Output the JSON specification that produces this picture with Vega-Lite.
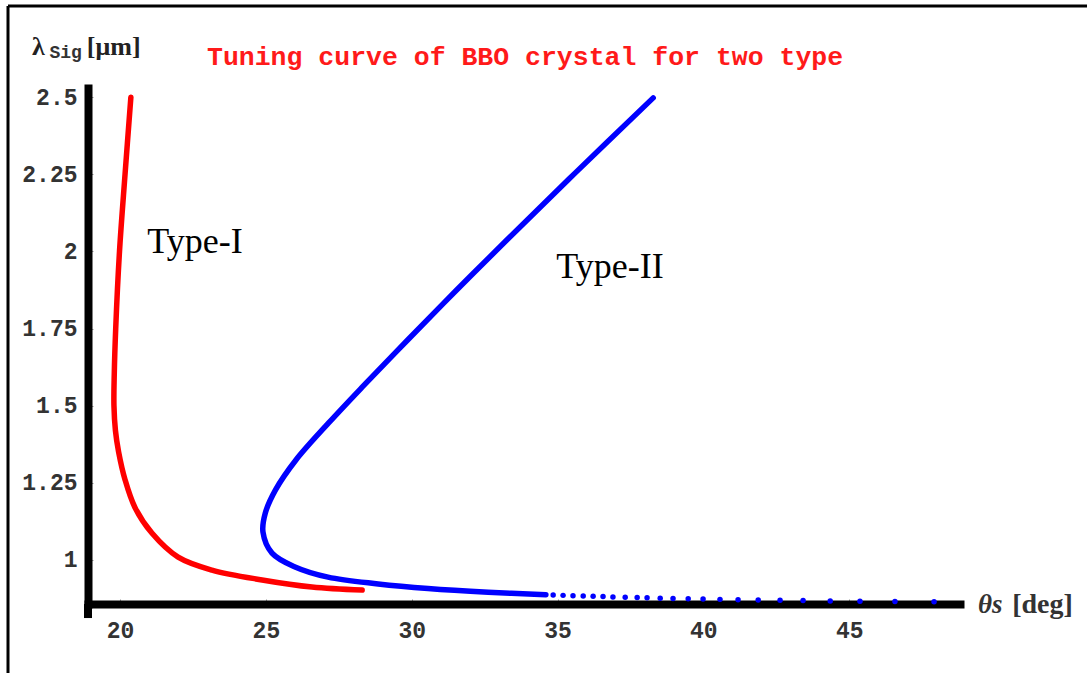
{
  "$schema": "https://vega.github.io/schema/vega-lite/v6.json",
  "width": 872,
  "height": 516,
  "autosize": {"type": "none"},
  "padding": {"left": 88, "top": 88, "right": 127, "bottom": 69},
  "background": "white",
  "config": {"view": {"stroke": null}},
  "datasets": {
    "curves": [
      {"type": "Type-I", "order": 1, "theta": 20.37, "lambda": 2.5},
      {"type": "Type-I", "order": 2, "theta": 20.17, "lambda": 2.25},
      {"type": "Type-I", "order": 3, "theta": 19.98, "lambda": 2.0},
      {"type": "Type-I", "order": 4, "theta": 19.85, "lambda": 1.75},
      {"type": "Type-I", "order": 5, "theta": 19.8, "lambda": 1.6},
      {"type": "Type-I", "order": 6, "theta": 19.79, "lambda": 1.5},
      {"type": "Type-I", "order": 7, "theta": 19.84, "lambda": 1.42},
      {"type": "Type-I", "order": 8, "theta": 19.95, "lambda": 1.35},
      {"type": "Type-I", "order": 9, "theta": 20.17, "lambda": 1.26},
      {"type": "Type-I", "order": 10, "theta": 20.51, "lambda": 1.17},
      {"type": "Type-I", "order": 11, "theta": 21.09, "lambda": 1.087},
      {"type": "Type-I", "order": 12, "theta": 21.99, "lambda": 1.009},
      {"type": "Type-I", "order": 13, "theta": 23.15, "lambda": 0.967},
      {"type": "Type-I", "order": 14, "theta": 24.87, "lambda": 0.935},
      {"type": "Type-I", "order": 15, "theta": 26.58, "lambda": 0.912},
      {"type": "Type-I", "order": 16, "theta": 28.3, "lambda": 0.902},
      {"type": "Type-II", "order": 1, "theta": 38.28, "lambda": 2.498},
      {"type": "Type-II", "order": 2, "theta": 35.6, "lambda": 2.254},
      {"type": "Type-II", "order": 3, "theta": 33.26, "lambda": 2.037},
      {"type": "Type-II", "order": 4, "theta": 31.54, "lambda": 1.875},
      {"type": "Type-II", "order": 5, "theta": 29.86, "lambda": 1.713},
      {"type": "Type-II", "order": 6, "theta": 28.3, "lambda": 1.56},
      {"type": "Type-II", "order": 7, "theta": 27.15, "lambda": 1.444},
      {"type": "Type-II", "order": 8, "theta": 26.03, "lambda": 1.324},
      {"type": "Type-II", "order": 9, "theta": 25.33, "lambda": 1.227},
      {"type": "Type-II", "order": 10, "theta": 24.98, "lambda": 1.152},
      {"type": "Type-II", "order": 11, "theta": 24.9, "lambda": 1.09},
      {"type": "Type-II", "order": 12, "theta": 25.21, "lambda": 1.022},
      {"type": "Type-II", "order": 13, "theta": 26.0, "lambda": 0.977},
      {"type": "Type-II", "order": 14, "theta": 27.13, "lambda": 0.944},
      {"type": "Type-II", "order": 15, "theta": 28.85, "lambda": 0.922},
      {"type": "Type-II", "order": 16, "theta": 30.56, "lambda": 0.907},
      {"type": "Type-II", "order": 17, "theta": 32.62, "lambda": 0.895},
      {"type": "Type-II", "order": 18, "theta": 34.6, "lambda": 0.887}
    ],
    "dots": [
      {"theta": 34.85, "lambda": 0.886},
      {"theta": 35.19, "lambda": 0.885},
      {"theta": 35.53, "lambda": 0.884},
      {"theta": 35.88, "lambda": 0.883},
      {"theta": 36.22, "lambda": 0.882},
      {"theta": 36.56, "lambda": 0.881},
      {"theta": 36.9, "lambda": 0.88},
      {"theta": 37.32, "lambda": 0.879},
      {"theta": 37.73, "lambda": 0.878},
      {"theta": 38.07, "lambda": 0.877},
      {"theta": 38.52, "lambda": 0.876},
      {"theta": 38.96, "lambda": 0.875},
      {"theta": 39.48, "lambda": 0.874},
      {"theta": 39.99, "lambda": 0.873},
      {"theta": 40.57, "lambda": 0.872},
      {"theta": 41.19, "lambda": 0.871},
      {"theta": 41.88, "lambda": 0.87},
      {"theta": 42.63, "lambda": 0.869},
      {"theta": 43.42, "lambda": 0.868},
      {"theta": 44.35, "lambda": 0.867},
      {"theta": 45.37, "lambda": 0.866},
      {"theta": 46.57, "lambda": 0.865},
      {"theta": 47.91, "lambda": 0.864}
    ],
    "labels": [
      {"text": "Type-I", "theta": 22.57, "lambda": 1.995},
      {"text": "Type-II", "theta": 36.8, "lambda": 1.914}
    ],
    "one": [{}]
  },
  "layer": [
    {
      "data": {"name": "curves"},
      "mark": {"type": "line", "strokeWidth": 5.5, "strokeCap": "round", "strokeJoin": "round", "interpolate": "catmull-rom", "clip": false},
      "encoding": {
        "x": {
          "field": "theta", "type": "quantitative",
          "scale": {"domain": [18.9, 48.8], "nice": false, "zero": false},
          "axis": {
            "values": [20, 25, 30, 35, 40, 45],
            "title": null,
            "grid": false,
            "domainWidth": 8,
            "domainColor": "black",
            "domainCap": "square",
            "tickColor": "#999",
            "tickSize": -5,
            "tickWidth": 1,
            "labelFont": "Liberation Mono",
            "labelFontSize": 23,
            "labelFontWeight": "bold",
            "labelColor": "#333",
            "labelPadding": 20
          }
        },
        "y": {
          "field": "lambda", "type": "quantitative",
          "scale": {"domain": [0.857, 2.53], "nice": false, "zero": false},
          "axis": {
            "values": [1, 1.25, 1.5, 1.75, 2, 2.25, 2.5],
            "labelExpr": "format(datum.value, '.3~g')",
            "title": null,
            "grid": false,
            "domainWidth": 8,
            "domainColor": "black",
            "domainCap": "square",
            "tickColor": "#999",
            "tickSize": -5,
            "tickWidth": 1,
            "labelFont": "Liberation Mono",
            "labelFontSize": 23,
            "labelFontWeight": "bold",
            "labelColor": "#333",
            "labelPadding": 16
          }
        },
        "order": {"field": "order"},
        "detail": {"field": "type"},
        "color": {
          "field": "type", "type": "nominal",
          "scale": {"domain": ["Type-I", "Type-II"], "range": ["#ff0000", "#0000ff"]},
          "legend": null
        }
      }
    },
    {
      "data": {"name": "dots"},
      "mark": {"type": "circle", "size": 30, "color": "#0000ff", "opacity": 1, "clip": false},
      "encoding": {
        "x": {"field": "theta", "type": "quantitative"},
        "y": {"field": "lambda", "type": "quantitative"}
      }
    },
    {
      "data": {"name": "labels"},
      "mark": {"type": "text", "font": "Liberation Serif", "fontSize": 36, "align": "center", "baseline": "alphabetic", "color": "black", "clip": false},
      "encoding": {
        "x": {"field": "theta", "type": "quantitative"},
        "y": {"field": "lambda", "type": "quantitative"},
        "text": {"field": "text"}
      }
    },
    {
      "data": {"name": "one"},
      "mark": {"type": "text", "text": "Tuning curve of BBO crystal for two type", "font": "Liberation Mono", "fontSize": 26.5, "fontWeight": "bold", "color": "#ff1a1a", "align": "center", "baseline": "alphabetic", "clip": false},
      "encoding": {"x": {"datum": 33.886}, "y": {"datum": 2.6046}}
    },
    {
      "data": {"name": "one"},
      "mark": {"type": "text", "text": "λ", "font": "Liberation Serif", "fontSize": 26, "fontWeight": "bold", "color": "#222", "align": "left", "baseline": "alphabetic", "clip": false},
      "encoding": {"x": {"datum": 16.98}, "y": {"datum": 2.637}}
    },
    {
      "data": {"name": "one"},
      "mark": {"type": "text", "text": "Sig", "font": "Liberation Mono", "fontSize": 18, "fontWeight": "bold", "color": "#333", "align": "left", "baseline": "alphabetic", "clip": false},
      "encoding": {"x": {"datum": 17.58}, "y": {"datum": 2.627}}
    },
    {
      "data": {"name": "one"},
      "mark": {"type": "text", "text": "[μm]", "font": "Liberation Serif", "fontSize": 26, "fontWeight": "bold", "color": "#222", "align": "left", "baseline": "alphabetic", "clip": false},
      "encoding": {"x": {"datum": 18.86}, "y": {"datum": 2.637}}
    },
    {
      "data": {"name": "one"},
      "mark": {"type": "text", "text": "θs", "font": "Liberation Serif", "fontSize": 27, "fontWeight": "bold", "fontStyle": "italic", "color": "#333", "align": "left", "baseline": "alphabetic", "clip": false},
      "encoding": {"x": {"datum": 49.42}, "y": {"datum": 0.828}}
    },
    {
      "data": {"name": "one"},
      "mark": {"type": "text", "text": "[deg]", "font": "Liberation Serif", "fontSize": 28, "fontWeight": "bold", "color": "#333", "align": "left", "baseline": "alphabetic", "clip": false},
      "encoding": {"x": {"datum": 50.59}, "y": {"datum": 0.828}}
    },
    {
      "data": {"name": "one"},
      "mark": {"type": "rule", "color": "black", "strokeWidth": 8, "clip": false},
      "encoding": {"x": {"datum": 18.9}, "y": {"datum": 0.857}, "y2": {"datum": 0.8115}}
    },
    {
      "data": {"name": "one"},
      "mark": {"type": "rule", "color": "black", "strokeWidth": 3, "clip": false},
      "encoding": {"x": {"datum": 16.157}, "x2": {"datum": 53.5}, "y": {"datum": 2.796}}
    },
    {
      "data": {"name": "one"},
      "mark": {"type": "rule", "color": "black", "strokeWidth": 3, "clip": false},
      "encoding": {"x": {"datum": 16.157}, "y": {"datum": 2.796}, "y2": {"datum": 0.6}}
    }
  ]
}
